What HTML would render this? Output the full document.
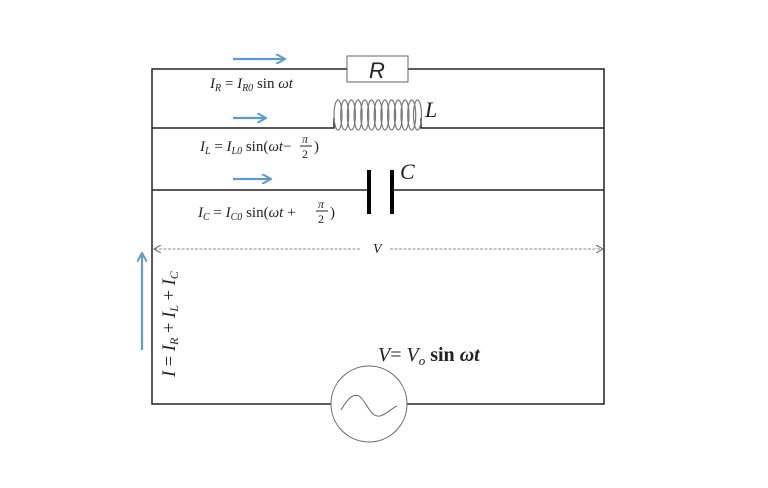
<!DOCTYPE html>
<html><head><meta charset="utf-8"><style>
body{margin:0;background:#fff;}
svg{display:block;}
text{font-family:"Liberation Serif",serif;fill:#222;}
</style></head><body>
<svg width="768" height="488" viewBox="0 0 768 488" xmlns="http://www.w3.org/2000/svg">
<defs>
<marker id="bh" markerWidth="10" markerHeight="10" refX="8" refY="5" orient="auto" markerUnits="userSpaceOnUse"><path d="M0,0 L9,5 L0,10" fill="none" stroke="#5b9bd5" stroke-width="2"/></marker>
<marker id="dh" markerWidth="8" markerHeight="8" refX="7" refY="4" orient="auto" markerUnits="userSpaceOnUse"><path d="M0,0 L7,4 L0,8" fill="none" stroke="#666" stroke-width="1"/></marker>
</defs>
<g stroke="#222" stroke-width="1.5" fill="none">
<path d="M347,69 H152 V404 H331"/>
<path d="M408,69 H604 V404 H407"/>
<path d="M152,128 H334 V118"/>
<path d="M421,118 V128 H604"/>
<path d="M152,190 H369"/>
<path d="M392,190 H604"/>
</g>
<rect x="347" y="56" width="61" height="26" fill="#fff" stroke="#666" stroke-width="1"/>
<text x="377" y="78" font-style="italic" font-size="22" text-anchor="middle" style="font-family:'Liberation Sans',sans-serif">R</text>
<g stroke="#777" stroke-width="1.2" fill="none">
<ellipse cx="338" cy="115" rx="4" ry="15"/><ellipse cx="344.7" cy="115" rx="4" ry="15"/><ellipse cx="351.4" cy="115" rx="4" ry="15"/><ellipse cx="358.1" cy="115" rx="4" ry="15"/><ellipse cx="364.8" cy="115" rx="4" ry="15"/><ellipse cx="371.5" cy="115" rx="4" ry="15"/><ellipse cx="378.2" cy="115" rx="4" ry="15"/><ellipse cx="384.9" cy="115" rx="4" ry="15"/><ellipse cx="391.6" cy="115" rx="4" ry="15"/><ellipse cx="398.3" cy="115" rx="4" ry="15"/><ellipse cx="405" cy="115" rx="4" ry="15"/><ellipse cx="411.7" cy="115" rx="4" ry="15"/><ellipse cx="417.5" cy="115" rx="4" ry="15"/>
</g>
<text x="425" y="117" font-style="italic" font-size="22">L</text>
<g stroke="#000" stroke-width="4"><line x1="369" y1="170" x2="369" y2="214"/><line x1="392" y1="170" x2="392" y2="214"/></g>
<text x="400" y="179" font-style="italic" font-size="22">C</text>
<g stroke="#5b9bd5" stroke-width="2.2">
<line x1="233" y1="59" x2="284" y2="59" marker-end="url(#bh)"/>
<line x1="233" y1="118" x2="265" y2="118" marker-end="url(#bh)"/>
<line x1="233" y1="179" x2="270" y2="179" marker-end="url(#bh)"/>
<line x1="142" y1="350" x2="142" y2="254" marker-end="url(#bh)"/>
</g>
<text x="210" y="88" font-size="15" font-style="italic">I<tspan font-size="10" dy="3">R</tspan><tspan dy="-3" font-style="normal"> = </tspan>I<tspan font-size="10" dy="3">R0</tspan><tspan dy="-3" font-style="normal"> sin </tspan>ωt</text>
<text x="200" y="151" font-size="15" font-style="italic">I<tspan font-size="10" dy="3">L</tspan><tspan dy="-3" font-style="normal"> = </tspan>I<tspan font-size="10" dy="3">L0</tspan><tspan dy="-3" font-style="normal"> sin(</tspan>ωt<tspan font-style="normal">−</tspan></text>
<text x="302" y="143" font-size="12" font-style="italic">π</text><line x1="300" y1="146" x2="312" y2="146" stroke="#222"/><text x="302" y="158" font-size="12">2</text><text x="314" y="151" font-size="15">)</text>
<text x="198" y="217" font-size="15" font-style="italic">I<tspan font-size="10" dy="3">C</tspan><tspan dy="-3" font-style="normal"> = </tspan>I<tspan font-size="10" dy="3">C0</tspan><tspan dy="-3" font-style="normal"> sin(</tspan>ωt<tspan font-style="normal"> + </tspan></text>
<text x="318" y="208" font-size="12" font-style="italic">π</text><line x1="316" y1="211" x2="328" y2="211" stroke="#222"/><text x="318" y="223" font-size="12">2</text><text x="330" y="217" font-size="15">)</text>
<g stroke="#666" stroke-width="0.8" stroke-dasharray="3,1.5">
<line x1="360" y1="249" x2="154" y2="249" marker-end="url(#dh)"/>
<line x1="390" y1="249" x2="603" y2="249" marker-end="url(#dh)"/>
</g>
<text x="373" y="253" font-size="14" font-style="italic">V</text>
<text transform="translate(175,377) rotate(-90)" font-size="18.5" font-style="italic">I<tspan font-style="normal"> = </tspan>I<tspan font-size="12" dy="3">R</tspan><tspan dy="-3" font-style="normal"> + </tspan>I<tspan font-size="12" dy="3">L</tspan><tspan dy="-3" font-style="normal"> + </tspan>I<tspan font-size="12" dy="3">C</tspan></text>
<text x="378" y="361" font-size="20" font-style="italic">V<tspan font-style="normal">= </tspan>V<tspan font-size="13" dy="4">o</tspan><tspan dy="-4" font-style="normal" font-weight="bold"> sin </tspan><tspan font-weight="bold">ωt</tspan></text>
<circle cx="369" cy="404" r="38" fill="#fff" stroke="#666" stroke-width="1"/>
<path d="M341,410 C347,400 352,393 359,396 C366,400 370,418 380,416 C387,414 392,408 397,406" fill="none" stroke="#666" stroke-width="1"/>
</svg>
</body></html>
